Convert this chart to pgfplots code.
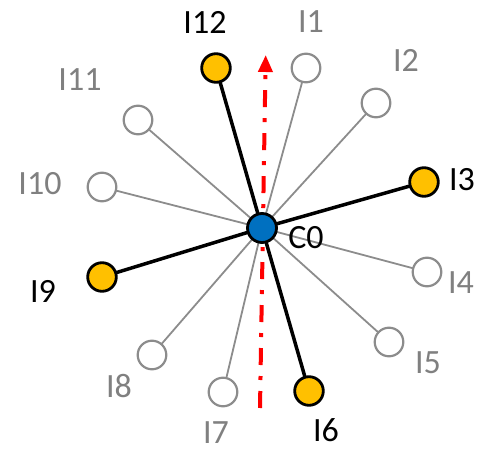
\documentclass[border=0pt]{standalone}
\usepackage{fontspec}
\setmainfont{Carlito}
\usepackage{pgfplots}
\pgfplotsset{compat=1.18}
\usetikzlibrary{arrows.meta}
\definecolor{lgray}{RGB}{140,140,140}
\definecolor{tgray}{RGB}{128,128,128}
\definecolor{orng}{RGB}{255,192,0}
\definecolor{blu}{RGB}{0,112,192}
\tikzset{lbl/.style={font=\fontsize{34}{40}\selectfont, inner sep=0pt}}
\begin{document}
\begin{tikzpicture}
\begin{axis}[
  scale only axis, width=490pt, height=452pt,
  xmin=0, xmax=490, ymin=0, ymax=452, y dir=reverse,
  hide axis, clip=false,
]
% gray spokes
\addplot[lgray, line width=1.8pt] coordinates {(262,228) (306,68)};
\addplot[lgray, line width=1.8pt] coordinates {(262,228) (376,103)};
\addplot[lgray, line width=1.8pt] coordinates {(262,228) (427,272)};
\addplot[lgray, line width=1.8pt] coordinates {(262,228) (389,342)};
\addplot[lgray, line width=1.8pt] coordinates {(262,228) (223,392)};
\addplot[lgray, line width=1.8pt] coordinates {(262,228) (152,355)};
\addplot[lgray, line width=1.8pt] coordinates {(262,228) (102,187)};
\addplot[lgray, line width=1.8pt] coordinates {(262,228) (138,120)};
% black spokes
\addplot[black, line width=3.5pt] coordinates {(262,228) (216,68)};
\addplot[black, line width=3.5pt] coordinates {(262,228) (424,182)};
\addplot[black, line width=3.5pt] coordinates {(262,228) (309,391)};
\addplot[black, line width=3.5pt] coordinates {(262,228) (102,277)};
% red arrow
\addplot[red, line width=4pt, dash pattern=on 17pt off 11pt on 4pt off 11pt,
  -{Triangle[length=17pt,width=14pt]}] coordinates {(260,408) (265.7,55)};
% hollow circles
\addplot[only marks, mark=*, mark size=14.3pt,
  mark options={draw=lgray, fill=white, line width=2.2pt}] coordinates {
  (306,68) (376,103) (427,272) (389,342) (223,392) (152,355) (102,187) (138,120)};
% orange circles
\addplot[only marks, mark=*, mark size=14.3pt,
  mark options={draw=black, fill=orng, line width=2.8pt}] coordinates {
  (216,68) (424,182) (309,391) (102,277)};
% center
\addplot[only marks, mark=*, mark size=14.5pt,
  mark options={draw=black, fill=blu, line width=2.8pt}] coordinates {(262,228)};
% labels
\node[lbl, text=tgray] at (axis cs:311,22) {I1};
\node[lbl, text=tgray] at (axis cs:406,60) {I2};
\node[lbl, text=black] at (axis cs:462,180) {I3};
\node[lbl, text=tgray] at (axis cs:461,283) {I4};
\node[lbl, text=tgray] at (axis cs:428,363) {I5};
\node[lbl, text=black] at (axis cs:326,430) {I6};
\node[lbl, text=tgray] at (axis cs:216,433) {I7};
\node[lbl, text=tgray] at (axis cs:119,386) {I8};
\node[lbl, text=black] at (axis cs:43,291) {I9};
\node[lbl, text=tgray] at (axis cs:40,184) {I10};
\node[lbl, text=tgray] at (axis cs:80,80) {I11};
\node[lbl, text=black] at (axis cs:205,22) {I12};
\node[lbl, text=black] at (axis cs:306,238) {C0};
\end{axis}
\path (current axis.south west) (current axis.north east);
\end{tikzpicture}
\end{document}
